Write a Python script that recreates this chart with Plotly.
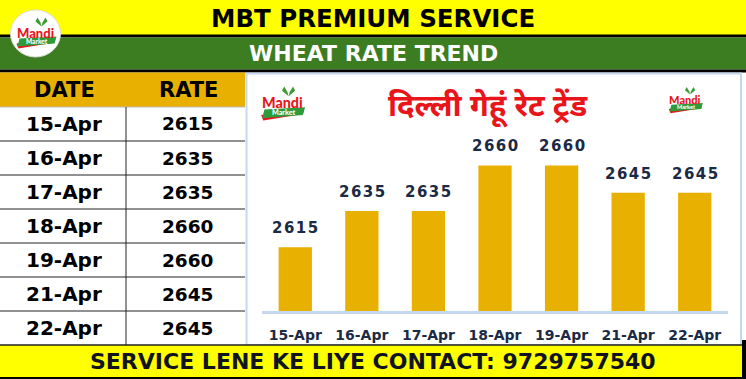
import plotly.graph_objects as go

W, H = 746, 379

# ---------------- data ----------------
dates = ["15-Apr", "16-Apr", "17-Apr", "18-Apr", "19-Apr", "21-Apr", "22-Apr"]
rates = [2615, 2635, 2635, 2660, 2660, 2645, 2645]
table_cols = ["DATE", "RATE"]
header_title = "MBT PREMIUM SERVICE"
sub_title = "WHEAT RATE TREND"
chart_title = "दिल्ली गेहूं रेट ट्रेंड"
footer_text = "SERVICE LENE KE LIYE CONTACT: 9729757540"
logo_top, logo_bottom = "Mandi", "Market"

# ---------------- styles ----------------
YELLOW = "#FFFF00"
GREEN = "#3C7D22"
GOLD = "#E8B102"
NAVY = "#1B2A45"
RED = "#E8161B"
LBLUE = "#C5D9EE"
HEAVY = "DejaVu Sans, Verdana, sans-serif"
DEVA = "Noto Sans Devanagari, Lohit Devanagari, Mangal, FreeSans, sans-serif"


def px(x):
    return x / W


def py(y):
    return 1 - y / H


shapes = []
annotations = []


def rect(x0, y0, x1, y1, fill, line_color=None, lw=0, layer="below"):
    shapes.append(dict(type="rect", xref="paper", yref="paper",
                       x0=px(x0), x1=px(x1), y0=py(y1), y1=py(y0),
                       fillcolor=fill, layer=layer,
                       line=dict(color=line_color or fill, width=lw)))


def hline(x0, x1, y, color, lw=1, layer="below"):
    shapes.append(dict(type="line", xref="paper", yref="paper",
                       x0=px(x0), x1=px(x1), y0=py(y), y1=py(y),
                       line=dict(color=color, width=lw), layer=layer))


def vline(x, y0, y1, color, lw=1, layer="below"):
    shapes.append(dict(type="line", xref="paper", yref="paper",
                       x0=px(x), x1=px(x), y0=py(y0), y1=py(y1),
                       line=dict(color=color, width=lw), layer=layer))


def text(x, y, s, size, color, family=HEAVY, weight="bold"):
    annotations.append(dict(xref="paper", yref="paper", x=px(x), y=py(y),
                            text=s, showarrow=False, xanchor="center", yanchor="middle",
                            font=dict(size=size, color=color, family=family, weight=weight)))


def path_px(points):
    return "M " + " L ".join(f"{px(x):.5f},{py(y):.5f}" for x, y in points) + " Z"


def logo(cx, cy, s, circle=True):
    if circle:
        shapes.append(dict(type="circle", xref="paper", yref="paper",
                           x0=px(cx - 25), x1=px(cx + 25),
                           y0=py(cy + 23.5), y1=py(cy - 23.5),
                           fillcolor="white", line=dict(color="#DDDDDD", width=1), layer="above"))
    # leaves (V shape)
    lx, ly = cx + 6 * s, cy - 7 * s
    shapes.append(dict(type="path", xref="paper", yref="paper", layer="above",
                       path=path_px([(lx, ly), (lx - 6 * s, ly - 5 * s), (lx - 4 * s, ly - 9 * s),
                                     (lx - 1 * s, ly - 4 * s)]),
                       fillcolor="#3E9A35", line=dict(width=0)))
    shapes.append(dict(type="path", xref="paper", yref="paper", layer="above",
                       path=path_px([(lx, ly), (lx + 6 * s, ly - 5 * s), (lx + 4 * s, ly - 9 * s),
                                     (lx + 1 * s, ly - 4 * s)]),
                       fillcolor="#3E9A35", line=dict(width=0)))
    # red swoosh
    shapes.append(dict(type="path", xref="paper", yref="paper", layer="above",
                       path=path_px([(cx - 19 * s, cy + 10 * s), (cx + 20 * s, cy + 5 * s),
                                     (cx + 19 * s, cy + 9 * s), (cx - 17 * s, cy + 15 * s)]),
                       fillcolor=RED, line=dict(width=0)))
    # green band
    shapes.append(dict(type="path", xref="paper", yref="paper", layer="above",
                       path=path_px([(cx - 16 * s, cy + 5 * s), (cx + 21 * s, cy + 3 * s),
                                     (cx + 19 * s, cy + 10 * s), (cx - 18 * s, cy + 13 * s)]),
                       fillcolor="#2E9A3A", line=dict(width=0)))
    annotations.append(dict(xref="paper", yref="paper", x=px(cx), y=py(cy - 1 * s),
                            text=logo_top, showarrow=False, xanchor="center", yanchor="middle",
                            font=dict(size=13 * s, color=RED, family="Lato, sans-serif", weight=900)))
    annotations.append(dict(xref="paper", yref="paper", x=px(cx + 1.5 * s), y=py(cy + 8 * s),
                            text=logo_bottom, showarrow=False, xanchor="center", yanchor="middle",
                            font=dict(size=6.5 * s, color="white", family="Lato, sans-serif", weight=900)))


# ---------------- background bands ----------------
rect(0, 0, W, 35, YELLOW)
rect(0, 34.5, W, 37.5, "black")
rect(0, 37.5, W, 69.5, GREEN)
rect(0, 69.5, W, 72.5, "black")

# table
rect(0, 72.5, 245, 107, GOLD)
rect(0, 107, 245, 345, "white")
row_h = 34
for i in range(len(dates) - 1):
    hline(0, 245, 107 + row_h * (i + 1), "#222222", 1)
hline(0, 245, 107, "#BBBBBB", 1)
vline(126, 107, 345, "#222222", 1)

# chart area
rect(246.5, 73.5, 741, 345, "white", LBLUE, 2)

# footer
rect(0, 345, W, 379, YELLOW)
hline(0, W, 345, "#222222", 1.5)
hline(0, W, 378, "black", 2)
rect(742, 340, W, 379, "black")

# ---------------- texts ----------------
text(373, 18, header_title, 24.5, "black")
text(373, 53.5, sub_title, 22, "white")
text(64, 89.5, table_cols[0], 21, "black")
text(188, 89.5, table_cols[1], 21, "black")
for i, (d, r) in enumerate(zip(dates, rates)):
    yc = 124 + row_h * i
    text(64, yc, d, 20, "black")
    text(188, yc, str(r), 18.5, "black")
text(373, 361, footer_text, 22, "#10141F")

annotations.append(dict(xref="paper", yref="paper", x=px(488), y=py(108),
                        text=chart_title, showarrow=False, xanchor="center", yanchor="middle",
                        font=dict(size=31, color=RED, family=DEVA, weight=700)))

logo(35.5, 33.5, 1.0)
logo(282, 104, 1.1, circle=False)
logo(685, 100.5, 0.85, circle=False)

# bar value labels
for d, r in zip(dates, rates):
    annotations.append(dict(xref="x", yref="y", x=d, y=r, text="\u200a".join(str(r)),
                            showarrow=False, yanchor="bottom", yshift=8,
                            font=dict(size=15, color=NAVY, family=HEAVY, weight="bold")))

# ---------------- figure ----------------
fig = go.Figure(go.Bar(x=dates, y=rates, marker=dict(color=GOLD, line=dict(width=0)),
                       hoverinfo="skip"))
fig.update_layout(
    width=W, height=H, margin=dict(l=0, r=0, t=0, b=0),
    paper_bgcolor="white", plot_bgcolor="rgba(0,0,0,0)",
    showlegend=False, bargap=0.5,
    shapes=shapes, annotations=annotations,
    xaxis=dict(domain=[px(262), px(728)], type="category", showline=True,
               linecolor=LBLUE, linewidth=2.5, showgrid=False, zeroline=False,
               ticks="outside", ticklen=9, tickcolor="rgba(0,0,0,0)",
               tickfont=dict(size=14, color=NAVY, family=HEAVY, weight="bold")),
    yaxis=dict(domain=[py(311), py(129)], range=[2580, 2680], visible=False,
               showgrid=False, zeroline=False),
)
fig.write_html("out.html", config={"displayModeBar": False},
               post_script="document.body.style.margin='0';document.body.style.overflow='hidden';")
